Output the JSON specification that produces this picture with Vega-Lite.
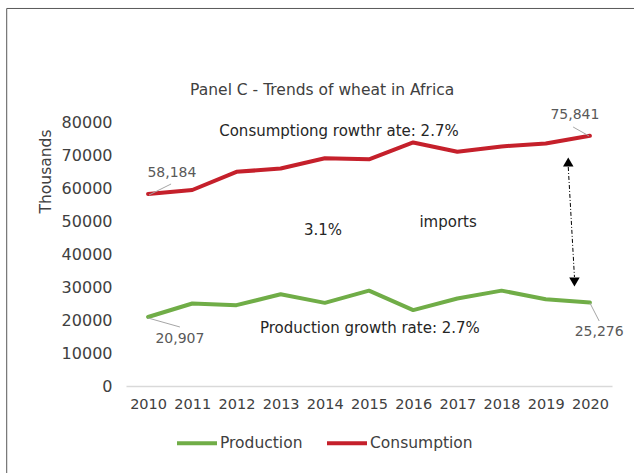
{
  "$schema": "https://vega.github.io/schema/vega-lite/v6.json",
  "width": 486,
  "height": 264,
  "autosize": {"type": "none"},
  "padding": {"left": 126, "top": 122, "right": 22, "bottom": 87},
  "background": "white",
  "config": {
    "view": {"stroke": null},
    "font": "DejaVu Sans",
    "text": {"font": "DejaVu Sans"}
  },
  "datasets": {
    "main": [
      {"year": 2010, "series": "Consumption", "value": 58184},
      {"year": 2011, "series": "Consumption", "value": 59400},
      {"year": 2012, "series": "Consumption", "value": 64900},
      {"year": 2013, "series": "Consumption", "value": 65900},
      {"year": 2014, "series": "Consumption", "value": 69000},
      {"year": 2015, "series": "Consumption", "value": 68700},
      {"year": 2016, "series": "Consumption", "value": 73800},
      {"year": 2017, "series": "Consumption", "value": 71000},
      {"year": 2018, "series": "Consumption", "value": 72600},
      {"year": 2019, "series": "Consumption", "value": 73500},
      {"year": 2020, "series": "Consumption", "value": 75841},
      {"year": 2010, "series": "Production", "value": 20907},
      {"year": 2011, "series": "Production", "value": 25000},
      {"year": 2012, "series": "Production", "value": 24500},
      {"year": 2013, "series": "Production", "value": 27800},
      {"year": 2014, "series": "Production", "value": 25200},
      {"year": 2015, "series": "Production", "value": 28900},
      {"year": 2016, "series": "Production", "value": 23000},
      {"year": 2017, "series": "Production", "value": 26500},
      {"year": 2018, "series": "Production", "value": 28900},
      {"year": 2019, "series": "Production", "value": 26300},
      {"year": 2020, "series": "Production", "value": 25276}
    ],
    "frame": [
      {"year": 2006.8, "value": 114400, "year2": 2022.5, "value2": -35000}
    ],
    "heading": [
      {"year": 2013.94, "value": 89697, "label": "Panel C - Trends of wheat in Africa"}
    ],
    "leaders": [
      {"year": 2010.02, "value": 57879, "year2": 2010.52, "value2": 61212},
      {"year": 2010.0, "value": 20606, "year2": 2010.72, "value2": 17879},
      {"year": 2019.98, "value": 75758, "year2": 2019.62, "value2": 78485},
      {"year": 2020.0, "value": 25152, "year2": 2020.21, "value2": 19697}
    ],
    "labels": [
      {"year": 2010.54, "value": 64545, "label": "58,184"},
      {"year": 2019.66, "value": 82121, "label": "75,841"},
      {"year": 2010.72, "value": 14242, "label": "20,907"},
      {"year": 2020.21, "value": 16364, "label": "25,276"}
    ],
    "notes": [
      {"year": 2014.32, "value": 77273, "label": "Consumptiong rowthr ate: 2.7%"},
      {"year": 2013.96, "value": 47273, "label": "3.1%"},
      {"year": 2016.79, "value": 49697, "label": "imports"},
      {"year": 2015.02, "value": 17576, "label": "Production growth rate: 2.7%"}
    ],
    "arrow": [
      {"year": 2019.51, "value": 66364, "year2": 2019.65, "value2": 33030}
    ],
    "heads": [
      {"year": 2019.51, "value": 67879, "end": "top"},
      {"year": 2019.65, "value": 31515, "end": "bottom"}
    ]
  },
  "encoding": {
    "x": {
      "field": "year",
      "type": "quantitative",
      "scale": {"domain": [2009.5, 2020.5], "nice": false, "zero": false},
      "axis": {
        "title": null,
        "values": [2010, 2011, 2012, 2013, 2014, 2015, 2016, 2017, 2018, 2019, 2020],
        "format": "d",
        "grid": false,
        "ticks": false,
        "domainColor": "#d9d9d9",
        "domainWidth": 1.5,
        "labelFontSize": 14.5,
        "labelColor": "#404040",
        "labelPadding": 11,
        "labelFlush": false
      }
    },
    "y": {
      "field": "value",
      "type": "quantitative",
      "scale": {"domain": [0, 80000], "nice": false},
      "axis": {
        "title": "Thousands",
        "values": [0, 10000, 20000, 30000, 40000, 50000, 60000, 70000, 80000],
        "format": "d",
        "grid": false,
        "ticks": false,
        "domain": false,
        "labelFontSize": 16,
        "labelColor": "#404040",
        "labelPadding": 14,
        "titleFontSize": 15.5,
        "titleFontWeight": "normal",
        "titleColor": "#404040",
        "titleAngle": 270,
        "titleAlign": "center",
        "titleBaseline": "middle",
        "titleX": -81,
        "titleY": 49
      }
    }
  },
  "layer": [
    {
      "data": {"name": "frame"},
      "mark": {"type": "rect", "filled": false, "color": "#595959", "strokeWidth": 1, "clip": false},
      "encoding": {
        "x2": {"field": "year2"},
        "y2": {"field": "value2"}
      }
    },
    {
      "data": {"name": "heading"},
      "mark": {"type": "text", "fontSize": 15.5, "color": "#404040", "align": "center", "baseline": "middle", "clip": false},
      "encoding": {"text": {"field": "label"}}
    },
    {
      "data": {"name": "main"},
      "mark": {"type": "line", "strokeWidth": 4, "strokeCap": "round", "strokeJoin": "round"},
      "encoding": {
        "color": {
          "field": "series",
          "type": "nominal",
          "scale": {"domain": ["Production", "Consumption"], "range": ["#70AD47", "#C5202B"]},
          "legend": {
            "title": null,
            "orient": "none",
            "direction": "horizontal",
            "legendX": 49,
            "legendY": 299,
            "symbolType": "stroke",
            "symbolStrokeWidth": 4,
            "symbolSize": 1600,
            "labelFontSize": 15.5,
            "labelColor": "#404040",
            "labelOffset": 1,
            "columnPadding": 16
          }
        }
      }
    },
    {
      "data": {"name": "leaders"},
      "mark": {"type": "rule", "color": "#a6a6a6", "strokeWidth": 1, "clip": false},
      "encoding": {
        "x2": {"field": "year2"},
        "y2": {"field": "value2"}
      }
    },
    {
      "data": {"name": "labels"},
      "mark": {"type": "text", "fontSize": 14, "color": "#595959", "align": "center", "baseline": "middle", "clip": false},
      "encoding": {"text": {"field": "label"}}
    },
    {
      "data": {"name": "notes"},
      "mark": {"type": "text", "fontSize": 15, "color": "#262626", "align": "center", "baseline": "middle", "clip": false},
      "encoding": {"text": {"field": "label"}}
    },
    {
      "data": {"name": "arrow"},
      "mark": {"type": "rule", "color": "#000000", "strokeWidth": 1, "strokeDash": [4, 2, 1, 2]},
      "encoding": {
        "x2": {"field": "year2"},
        "y2": {"field": "value2"}
      }
    },
    {
      "data": {"name": "heads"},
      "mark": {"type": "point", "filled": true, "color": "#000000", "size": 110, "opacity": 1},
      "encoding": {
        "shape": {
          "field": "end",
          "type": "nominal",
          "scale": {"domain": ["top", "bottom"], "range": ["triangle-up", "triangle-down"]},
          "legend": null
        }
      }
    }
  ]
}
